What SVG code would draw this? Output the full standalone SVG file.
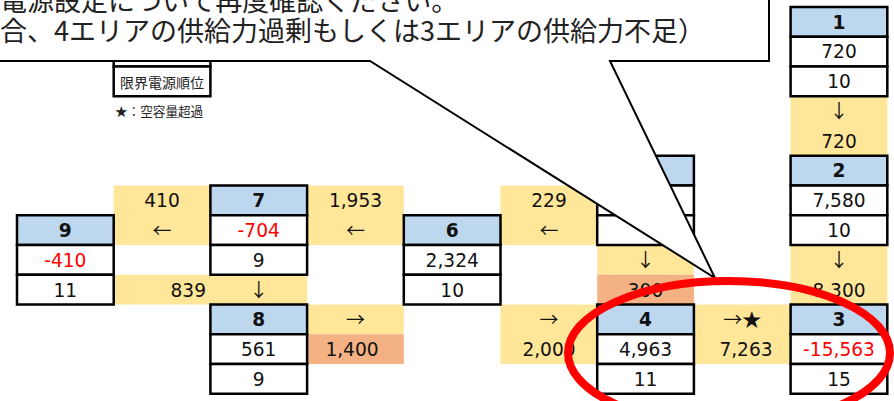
<svg xmlns="http://www.w3.org/2000/svg" width="894" height="401" viewBox="0 0 894 401">
<style>
.hd{fill:#BDD7EE;stroke:#000;stroke-width:2.5}
.cl{fill:#fff;stroke:#000;stroke-width:2.5}
.y{fill:#FFE699}
.o{fill:#F4B183}
.n{font-family:"DejaVu Sans",sans-serif;font-size:18.6px;fill:#111;text-anchor:middle}
.b{font-weight:bold}
.r{fill:#FF0000}
.a{font-family:"Noto Sans CJK JP",sans-serif;font-size:19px;fill:#111;text-anchor:middle}
.j{font-family:"Noto Sans CJK JP",sans-serif;fill:#222}
</style>
<rect width="894" height="401" fill="#fff"/>

<g id="connectors">
  <rect class="y" x="113.7" y="185.5" width="96.7" height="59.5"/>
  <text class="n" x="162" y="207">410</text>
  <text class="a" x="162" y="237.5">←</text>
  <rect class="y" x="307.1" y="185.5" width="96.7" height="59.5"/>
  <text class="n" x="355.5" y="207">1,953</text>
  <text class="a" x="355.5" y="237.5">←</text>
  <rect class="y" x="500.5" y="185.5" width="96.7" height="59.5"/>
  <text class="n" x="549" y="207">229</text>
  <text class="a" x="549" y="237.5">←</text>
  <rect class="y" x="113.7" y="274.75" width="193.4" height="29.75"/>
  <text class="n" x="206" y="296.5" style="text-anchor:end">839</text>
  <text class="a" x="258.7" y="297">↓</text>
  <rect class="y" x="307.1" y="304.5" width="96.7" height="29.75"/>
  <rect class="o" x="307.1" y="334.25" width="96.7" height="29.75"/>
  <text class="a" x="355.5" y="326.5">→</text>
  <text class="n" x="352" y="356">1,400</text>
  <rect class="y" x="500.5" y="304.5" width="96.7" height="59.5"/>
  <text class="a" x="549" y="326.5">→</text>
  <text class="n" x="549" y="356">2,000</text>
  <rect class="y" x="597.2" y="245" width="96.7" height="29.75"/>
  <rect class="o" x="597.2" y="274.75" width="96.7" height="29.75"/>
  <text class="a" x="645.5" y="267">↓</text>
  <text class="n" x="645.5" y="296.5">300</text>
  <rect class="y" x="693.9" y="304.5" width="96.7" height="59.5"/>
  <text class="a" x="742.2" y="326.5">→★</text>
  <text class="n" x="746" y="356">7,263</text>
  <rect class="y" x="790.6" y="96.25" width="96.7" height="59.5"/>
  <text class="a" x="839" y="118">↓</text>
  <text class="n" x="839" y="147.5">720</text>
  <rect class="y" x="790.6" y="245" width="96.7" height="59.5"/>
  <text class="a" x="839" y="267">↓</text>
  <text class="n" x="839" y="296.5">8,300</text>
</g>

<g id="node-1">
  <rect class="hd" x="790.6" y="7" width="96.7" height="29.75"/>
  <rect class="cl" x="790.6" y="36.75" width="96.7" height="29.75"/>
  <rect class="cl" x="790.6" y="66.5" width="96.7" height="29.75"/>
  <text class="n b" x="839" y="28.5">1</text>
  <text class="n" x="839" y="58">720</text>
  <text class="n" x="839" y="88">10</text>
</g>
<g id="node-2">
  <rect class="hd" x="790.6" y="155.75" width="96.7" height="29.75"/>
  <rect class="cl" x="790.6" y="185.5" width="96.7" height="29.75"/>
  <rect class="cl" x="790.6" y="215.25" width="96.7" height="29.75"/>
  <text class="n b" x="839" y="177">2</text>
  <text class="n" x="839" y="207">7,580</text>
  <text class="n" x="839" y="236.5">10</text>
</g>
<g id="node-3">
  <rect class="hd" x="790.6" y="304.5" width="96.7" height="29.75"/>
  <rect class="cl" x="790.6" y="334.25" width="96.7" height="29.75"/>
  <rect class="cl" x="790.6" y="364" width="96.7" height="29.75"/>
  <text class="n b" x="839" y="326">3</text>
  <text class="n r" x="839" y="356">-15,563</text>
  <text class="n" x="839" y="385.5">15</text>
</g>
<g id="node-4">
  <rect class="hd" x="597.2" y="304.5" width="96.7" height="29.75"/>
  <rect class="cl" x="597.2" y="334.25" width="96.7" height="29.75"/>
  <rect class="cl" x="597.2" y="364" width="96.7" height="29.75"/>
  <text class="n b" x="645.5" y="326">4</text>
  <text class="n" x="645.5" y="356">4,963</text>
  <text class="n" x="645.5" y="385.5">11</text>
</g>
<g id="node-5">
  <rect class="hd" x="597.2" y="155.75" width="96.7" height="29.75"/>
  <rect class="cl" x="597.2" y="185.5" width="96.7" height="29.75"/>
  <rect class="cl" x="597.2" y="215.25" width="96.7" height="29.75"/>
</g>
<g id="node-6">
  <rect class="hd" x="403.8" y="215.25" width="96.7" height="29.75"/>
  <rect class="cl" x="403.8" y="245" width="96.7" height="29.75"/>
  <rect class="cl" x="403.8" y="274.75" width="96.7" height="29.75"/>
  <text class="n b" x="452.2" y="236.5">6</text>
  <text class="n" x="452.2" y="266.5">2,324</text>
  <text class="n" x="452.2" y="296.5">10</text>
</g>
<g id="node-7">
  <rect class="hd" x="210.4" y="185.5" width="96.7" height="29.75"/>
  <rect class="cl" x="210.4" y="215.25" width="96.7" height="29.75"/>
  <rect class="cl" x="210.4" y="245" width="96.7" height="29.75"/>
  <text class="n b" x="258.7" y="207">7</text>
  <text class="n r" x="258.7" y="236.5">-704</text>
  <text class="n" x="258.7" y="266.5">9</text>
</g>
<g id="node-8">
  <rect class="hd" x="210.4" y="304.5" width="96.7" height="29.75"/>
  <rect class="cl" x="210.4" y="334.25" width="96.7" height="29.75"/>
  <rect class="cl" x="210.4" y="364" width="96.7" height="29.75"/>
  <text class="n b" x="258.7" y="326">8</text>
  <text class="n" x="258.7" y="356">561</text>
  <text class="n" x="258.7" y="385.5">9</text>
</g>
<g id="node-9">
  <rect class="hd" x="17" y="215.25" width="96.7" height="29.75"/>
  <rect class="cl" x="17" y="245" width="96.7" height="29.75"/>
  <rect class="cl" x="17" y="274.75" width="96.7" height="29.75"/>
  <text class="n b" x="65.3" y="236.5">9</text>
  <text class="n r" x="65.3" y="266.5">-410</text>
  <text class="n" x="65.3" y="296.5">11</text>
</g>

<g id="legend">
  <rect class="cl" x="113.7" y="36.75" width="96.7" height="29.75"/>
  <rect class="cl" x="113.7" y="66.5" width="96.7" height="29.75"/>
  <text class="j" x="162" y="88" font-size="14" text-anchor="middle">限界電源順位</text>
  <text class="j" x="115" y="116" font-size="12.6">★：空容量超過</text>
</g>

<g id="callout">
  <path d="M-10,-10 H769 V61 H610 L715,278 L370,61 H-10 Z" fill="#fff" stroke="#000" stroke-width="2" stroke-linejoin="miter"/>
  <text class="j" x="0" y="11" font-size="27">電源設定について再度確認ください。</text>
  <text class="j" x="0" y="41" font-size="27">合、4エリアの供給力過剰もしくは3エリアの供給力不足）</text>
</g>

<ellipse id="highlight" cx="729" cy="353" rx="161" ry="72" fill="none" stroke="#FF0000" stroke-width="8"/>
</svg>
